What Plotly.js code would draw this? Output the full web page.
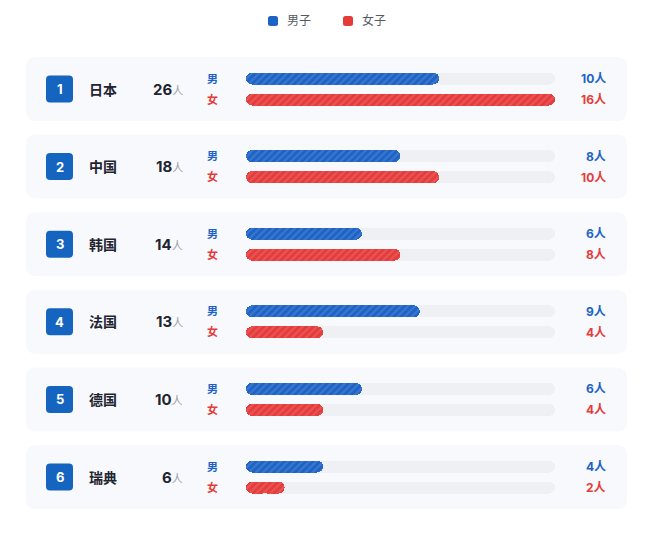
<!DOCTYPE html>
<html>
<head>
<meta charset="utf-8">
<script src="https://cdn.plot.ly/plotly-3.0.1.min.js"></script>
<style>html,body{margin:0;padding:0;background:#fff;}#chart{width:650px;height:534px;}</style>
</head>
<body>
<div id="chart"></div>
<script>
// ---- data ----
const countries = ['日本', '中国', '韩国', '法国', '德国', '瑞典'];
const ranks = [1, 2, 3, 4, 5, 6];
const totals = [26, 18, 14, 13, 10, 6];
const male = [10, 8, 6, 9, 6, 4];
const female = [16, 10, 8, 4, 4, 2];
const seriesNames = ['男子', '女子'];
const rowLabels = ['男', '女'];
const unit = '人';

// ---- style / layout geometry ----
const W = 650, H = 534;
const BLUE = '#1d62c5', RED = '#e53b3b', BADGE = '#1565c0';
const CARD = '#f7f9fc', TRACK = '#eef0f4';
const FONT = 'Inter, "Noto Sans CJK SC", sans-serif';
const X0 = 246, X1 = 555;            // pixel span of the track
const maxV = Math.max(...male, ...female);
const kx = maxV / (X1 - X0);
const X = p => (p - X0) * kx;          // pixel -> x data
const ROW = 77.6, TOP = 89;            // row pitch & first row centre (px)
const DY = 10.5 / ROW, BW = 12 / ROW;
const idx = countries.map((_, i) => i);

function rrect(x0, x1, y0, y1, rx, ry) {
  return `M${x0 + rx},${y0} L${x1 - rx},${y0} Q${x1},${y0} ${x1},${y0 + ry} L${x1},${y1 - ry} Q${x1},${y1} ${x1 - rx},${y1} L${x0 + rx},${y1} Q${x0},${y1} ${x0},${y1 - ry} L${x0},${y0 + ry} Q${x0},${y0} ${x0 + rx},${y0} Z`;
}

const traces = [];
// each bar is drawn as two overlapping halves so that both ends get rounded
function halves(vals, ys, color, pattern) {
  const mk = pattern
    ? {color: color, pattern: {shape: '/', bgcolor: color, fgcolor: 'rgba(255,255,255,0.26)', size: 5, solidity: 0.45, fillmode: 'overlay'}}
    : {color: color};
  traces.push({type: 'bar', orientation: 'h', y: ys, x: vals.map(v => 0.6 * v), base: vals.map(v => 0.4 * v),
    width: BW, marker: Object.assign({line: {width: 0}}, mk), showlegend: false, hoverinfo: 'skip'});
  traces.push({type: 'bar', orientation: 'h', y: ys, x: vals.map(v => -0.6 * v), base: vals.map(v => 0.6 * v),
    width: BW, marker: Object.assign({line: {width: 0}}, mk), showlegend: false, hoverinfo: 'skip'});
}
const yM = idx.map(i => i - DY), yF = idx.map(i => i + DY);
halves(idx.map(() => maxV), yM, TRACK, false);
halves(idx.map(() => maxV), yF, TRACK, false);
halves(male, yM, BLUE, true);
halves(female, yF, RED, true);

const shapes = [], annotations = [];
// legend (manual)
[[seriesNames[0], BLUE, 268], [seriesNames[1], RED, 343]].forEach(([n, c, px]) => {
  shapes.push({type: 'path', xref: 'paper', yref: 'paper', fillcolor: c, line: {width: 0},
    path: rrect(px / W, (px + 10) / W, 1 - 26 / H, 1 - 16 / H, 2.5 / W, 2.5 / H)});
  annotations.push({xref: 'paper', yref: 'paper', x: (px + 17) / W, y: 1 - 21 / H, xanchor: 'left', yanchor: 'middle',
    text: n, showarrow: false, font: {family: FONT, size: 12, color: '#555b65'}});
});

const rxC = 10 * kx, ryC = 10 / ROW;
idx.forEach(i => {
  shapes.push({type: 'path', xref: 'x', yref: 'y', layer: 'below', line: {width: 0}, fillcolor: CARD,
    path: rrect(X(26), X(627), i - 32 / ROW, i + 32 / ROW, rxC, ryC)});
  shapes.push({type: 'path', xref: 'x', yref: 'y', layer: 'below', line: {width: 0}, fillcolor: BADGE,
    path: rrect(X(46), X(73), i - 13.5 / ROW, i + 13.5 / ROW, 4 * kx, 4 / ROW)});
  annotations.push({xref: 'x', yref: 'y', x: X(59.5), y: i, text: '<b>' + ranks[i] + '</b>', showarrow: false,
    font: {family: FONT, size: 13, color: '#ffffff'}});
  annotations.push({xref: 'x', yref: 'y', x: X(87), y: i, xanchor: 'left', text: '<b>' + countries[i] + '</b>', showarrow: false,
    font: {family: FONT, size: 14, color: '#1f2430'}});
  annotations.push({xref: 'x', yref: 'y', x: X(185), y: i, xanchor: 'right',
    text: '<b>' + totals[i] + '</b><span style="font-size:11px;color:#9aa0a8">' + unit + '</span>', showarrow: false,
    font: {family: FONT, size: 15, color: '#1f2430'}});
  annotations.push({xref: 'x', yref: 'y', x: X(212), y: i - DY, text: '<b>' + rowLabels[0] + '</b>', showarrow: false,
    font: {family: FONT, size: 11, color: BLUE}});
  annotations.push({xref: 'x', yref: 'y', x: X(212), y: i + DY, text: '<b>' + rowLabels[1] + '</b>', showarrow: false,
    font: {family: FONT, size: 11, color: RED}});
  annotations.push({xref: 'x', yref: 'y', x: X(608), y: i - DY, xanchor: 'right', text: '<b>' + male[i] + unit + '</b>', showarrow: false,
    font: {family: FONT, size: 12, color: BLUE}});
  annotations.push({xref: 'x', yref: 'y', x: X(608), y: i + DY, xanchor: 'right', text: '<b>' + female[i] + unit + '</b>', showarrow: false,
    font: {family: FONT, size: 12, color: RED}});
});

const layout = {
  width: W, height: H,
  margin: {l: 0, r: 0, t: 0, b: 0},
  paper_bgcolor: '#ffffff', plot_bgcolor: 'rgba(0,0,0,0)',
  barmode: 'overlay', barcornerradius: 6, bargap: 0,
  hovermode: false,
  font: {family: FONT},
  xaxis: {range: [X(0), X(W)], domain: [0, 1], visible: false, fixedrange: true},
  yaxis: {range: [(H - TOP) / ROW, -TOP / ROW], domain: [0, 1], visible: false, fixedrange: true},
  showlegend: false,
  shapes: shapes, annotations: annotations
};
Plotly.newPlot('chart', traces, layout, {displayModeBar: false, staticPlot: true});
</script>
</body>
</html>
